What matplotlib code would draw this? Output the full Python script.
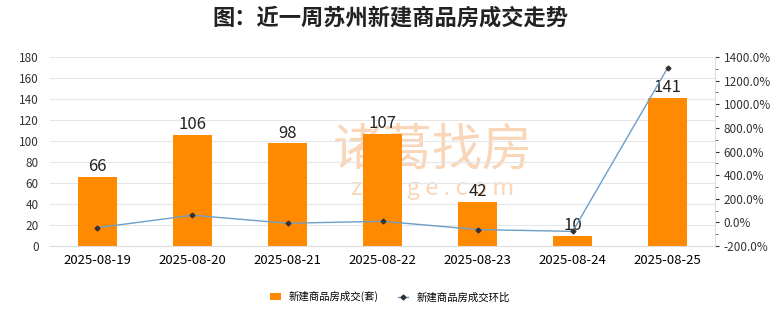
import matplotlib.pyplot as plt
import numpy as np
from matplotlib.ticker import MultipleLocator, FuncFormatter

plt.rcParams["font.family"] = ["Noto Sans CJK SC", "DejaVu Sans"]

dates = ["2025-08-19", "2025-08-20", "2025-08-21", "2025-08-22", "2025-08-23", "2025-08-24", "2025-08-25"]
deals = [66, 106, 98, 107, 42, 10, 141]
ratio = [-45.0, 60.6, -7.5, 9.2, -60.7, -76.2, 1310.0]

fig = plt.figure(figsize=(7.8, 3.28), dpi=100)
ax = fig.add_axes([0.064, 0.25, 0.853, 0.576])
ax2 = ax.twinx()

# watermark, drawn faintly behind the bars
ax.text(0.575, 0.505, "诸葛找房", transform=ax.transAxes, ha="center", va="center",
        fontsize=36, color="#F9D6B8", zorder=1)
ax.text(0.575, 0.305, "z h u g e . c o m", transform=ax.transAxes, ha="center", va="center",
        fontsize=17, color="#F9D6B8", zorder=1)

x = np.arange(len(dates))
ax.bar(x, deals, width=0.41, color="#FF8A00", zorder=2, label="新建商品房成交(套)")
for xi, v in zip(x, deals):
    ax.text(xi, v + 1.5, str(v), ha="center", va="bottom", fontsize=12, color="#222222", zorder=4)

ax.set_ylim(0, 180)
ax.yaxis.set_major_locator(MultipleLocator(20))
ax.set_xlim(-0.5, len(dates) - 0.5)
ax.set_xticks(x)
ax.set_xticklabels(dates, fontsize=9.5)
ax.tick_params(axis="y", labelsize=8.5, colors="#333333", length=0, pad=8)
ax.tick_params(axis="x", length=0, pad=6)
ax.grid(axis="y", color="#e6e6e6", linewidth=0.8, zorder=0)
for s in ["top", "right", "left"]:
    ax.spines[s].set_visible(False)
ax.spines["bottom"].set_color("#dddddd")

ax2.plot(x, ratio, color="#6d9ec8", linewidth=1, marker="D", markersize=2.5,
         markerfacecolor="#333333", markeredgecolor="#333333", zorder=3, label="新建商品房成交环比")
ax2.set_ylim(-200, 1400)
ax2.yaxis.set_major_locator(MultipleLocator(200))
ax2.yaxis.set_minor_locator(MultipleLocator(100))
ax2.yaxis.set_major_formatter(FuncFormatter(lambda v, p: f"{v:.1f}%"))
ax2.tick_params(axis="y", which="major", labelsize=8.5, colors="#333333", length=3, pad=3)
ax2.tick_params(axis="y", which="minor", length=2, colors="#555555")
for s in ["top", "left", "bottom"]:
    ax2.spines[s].set_visible(False)
ax2.spines["right"].set_color("#dddddd")

fig.text(0.5, 0.945, "图：近一周苏州新建商品房成交走势", ha="center", va="center",
         fontsize=16, fontweight="bold", color="#222222")

h1, l1 = ax.get_legend_handles_labels()
h2, l2 = ax2.get_legend_handles_labels()
fig.legend(h1 + h2, l1 + l2, loc="center", bbox_to_anchor=(0.5, 0.095), ncol=2,
           frameon=False, fontsize=7.5, handlelength=1.0, handleheight=0.7, columnspacing=1.8)

fig.savefig("out.png", dpi=100)
